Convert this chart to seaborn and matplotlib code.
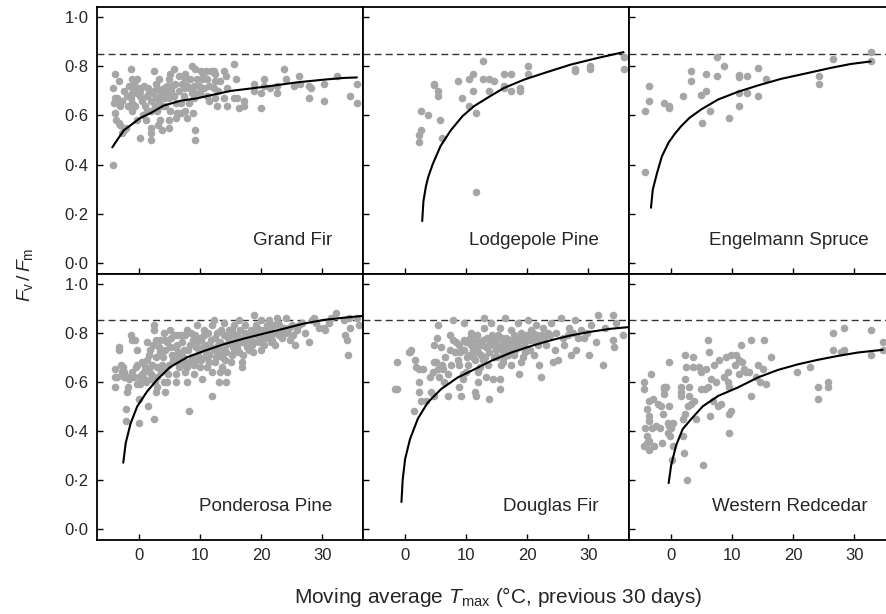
import matplotlib
matplotlib.use("Agg")
import matplotlib.pyplot as plt
import matplotlib.ticker as mticker
import pandas as pd
import seaborn as sns

# Fv/Fm against 30-day moving average Tmax, six conifer species
species = ["Grand Fir", "Lodgepole Pine", "Engelmann Spruce",
           "Ponderosa Pine", "Douglas Fir", "Western Redcedar"]

grand_fir_pts = [
    (-4.3, 0.40), (-4.0, 0.77), (-4.3, 0.71), (-3.3, 0.74), (-3.9, 0.67), (-3.6, 0.67), (-4.2, 0.65),
    (-3.3, 0.65), (-3.1, 0.64), (-3.9, 0.61), (-3.8, 0.58), (-3.3, 0.57), (-3.1, 0.56), (-2.8, 0.53),
    (-2.5, 0.54), (-2.1, 0.55), (-1.4, 0.79), (-1.1, 0.75), (-0.3, 0.75), (-0.9, 0.71), (-1.1, 0.69),
    (-0.6, 0.71), (-0.1, 0.71), (-0.3, 0.69), (0.2, 0.68), (0.2, 0.70), (-1.4, 0.67), (-2.0, 0.68),
    (-1.1, 0.65), (-1.1, 0.62), (-0.6, 0.64), (-0.3, 0.58), (0.1, 0.51), (1.9, 0.66), (2.1, 0.69),
    (1.3, 0.68), (1.6, 0.69), (2.4, 0.70), (2.4, 0.78), (3.2, 0.75), (3.0, 0.71), (3.2, 0.66),
    (3.5, 0.68), (4.0, 0.71), (3.8, 0.64), (3.0, 0.62), (1.9, 0.62), (1.3, 0.62), (1.9, 0.55),
    (1.9, 0.53), (1.9, 0.50), (3.5, 0.58), (3.8, 0.54), (4.9, 0.55), (4.9, 0.58), (4.3, 0.64),
    (4.9, 0.67), (4.6, 0.72), (4.9, 0.75), (5.1, 0.77), (5.7, 0.79), (5.4, 0.72), (5.7, 0.68),
    (6.0, 0.65), (6.2, 0.61), (6.0, 0.59), (6.8, 0.65), (7.3, 0.68), (7.6, 0.71), (7.3, 0.76),
    (7.6, 0.77), (7.9, 0.72), (8.1, 0.65), (7.6, 0.62), (7.9, 0.59), (7.6, 0.75), (8.7, 0.80),
    (9.2, 0.79), (9.5, 0.75), (9.0, 0.72), (8.7, 0.69), (9.2, 0.69), (9.0, 0.67), (9.2, 0.54),
    (9.2, 0.50), (10.1, 0.78), (10.3, 0.75), (10.6, 0.71), (10.9, 0.78), (11.1, 0.75), (11.1, 0.68),
    (11.4, 0.66), (12.2, 0.78), (12.5, 0.77), (12.5, 0.74), (12.2, 0.71), (12.5, 0.67), (12.8, 0.64),
    (13.9, 0.78), (14.2, 0.76), (13.9, 0.67), (14.4, 0.71), (14.4, 0.64), (15.5, 0.81), (15.8, 0.75),
    (15.5, 0.67), (16.1, 0.67), (16.3, 0.63), (17.2, 0.66), (17.2, 0.64), (18.8, 0.73), (18.8, 0.70),
    (19.9, 0.69), (19.9, 0.63), (20.4, 0.75), (20.4, 0.72), (21.5, 0.71), (22.6, 0.72), (22.6, 0.69),
    (23.7, 0.79), (24.0, 0.75), (25.4, 0.72), (26.2, 0.76), (26.4, 0.73), (27.8, 0.72), (27.8, 0.67),
    (28.1, 0.71), (30.3, 0.73), (30.3, 0.66), (32.5, 0.76), (34.6, 0.68), (35.7, 0.73), (35.7, 0.65),
    (-2.5, 0.70), (-1.7, 0.72), (-0.8, 0.73), (0.5, 0.66), (0.8, 0.72), (1.0, 0.64), (1.5, 0.71),
    (2.7, 0.67), (2.8, 0.73), (3.6, 0.70), (4.1, 0.67), (4.5, 0.69), (5.2, 0.70), (5.9, 0.73),
    (6.5, 0.70), (6.5, 0.76), (7.0, 0.73), (8.3, 0.75), (8.4, 0.71), (9.8, 0.72), (10.0, 0.69),
    (10.5, 0.77), (11.5, 0.72), (11.8, 0.78), (13.2, 0.74), (13.0, 0.70), (-2.8, 0.66), (-1.8, 0.64),
    (0.6, 0.60), (2.6, 0.64), (5.0, 0.62), (6.9, 0.61), (8.8, 0.61), (1.2, 0.58), (3.1, 0.56),
]

lodgepole_pts = [
    (12.7, 0.82), (4.8, 0.73), (4.8, 0.725), (5.4, 0.70), (5.4, 0.68), (2.6, 0.62), (3.7, 0.60),
    (2.6, 0.54), (2.2, 0.52), (2.2, 0.49), (5.8, 0.58), (6.0, 0.51), (8.7, 0.74), (10.5, 0.75),
    (11.1, 0.77), (12.7, 0.75), (13.8, 0.75), (14.5, 0.74), (9.4, 0.67), (10.5, 0.64), (11.1, 0.70),
    (11.6, 0.61), (13.8, 0.70), (11.6, 0.29), (16.2, 0.77), (17.3, 0.77), (16.2, 0.72), (16.2, 0.71),
    (17.3, 0.70), (18.8, 0.71), (18.8, 0.70), (20.2, 0.80), (20.2, 0.77), (27.8, 0.79), (27.8, 0.78),
    (30.3, 0.80), (30.3, 0.79), (35.8, 0.84), (35.8, 0.79),
]

engelmann_pts = [
    (-4.2, 0.62), (-3.6, 0.66), (-3.6, 0.72), (-4.2, 0.37), (-1.1, 0.65), (-0.4, 0.64), (-0.4, 0.63),
    (1.9, 0.68), (3.3, 0.78), (3.3, 0.74), (4.9, 0.685), (5.7, 0.70), (5.7, 0.77), (5.0, 0.57),
    (6.4, 0.62), (7.5, 0.84), (7.5, 0.76), (8.7, 0.80), (9.5, 0.59), (11.2, 0.765), (11.2, 0.755),
    (11.2, 0.69), (11.2, 0.64), (12.5, 0.76), (12.5, 0.69), (14.2, 0.795), (14.2, 0.68), (15.6, 0.75),
    (24.2, 0.76), (24.2, 0.73), (26.6, 0.83), (32.7, 0.86), (32.7, 0.82),
]

ponderosa_pts = [
    (-4.0, 0.65), (-4.0, 0.62), (-4.0, 0.58), (-3.3, 0.74), (-3.3, 0.73), (-3.0, 0.67), (-2.8, 0.64),
    (-2.5, 0.62), (-2.4, 0.64), (-2.0, 0.62), (-1.7, 0.61), (-1.4, 0.62), (-1.9, 0.58), (-2.0, 0.56),
    (-2.1, 0.49), (-2.1, 0.44), (-1.4, 0.79), (-1.1, 0.77), (-0.6, 0.77), (-0.3, 0.73), (-0.3, 0.67),
    (-0.1, 0.62), (-0.3, 0.59), (-0.1, 0.53), (-0.1, 0.43), (0.2, 0.59), (0.8, 0.64), (0.8, 0.61),
    (1.3, 0.69), (1.3, 0.76), (1.6, 0.71), (1.6, 0.65), (1.9, 0.61), (1.5, 0.50), (2.1, 0.67),
    (2.4, 0.83), (2.4, 0.81), (2.4, 0.45), (2.7, 0.77), (2.7, 0.70), (3.0, 0.66), (3.0, 0.62),
    (3.0, 0.58), (3.2, 0.74), (3.5, 0.72), (3.8, 0.67), (4.0, 0.80), (4.3, 0.77), (4.3, 0.73),
    (4.3, 0.65), (4.3, 0.56), (4.6, 0.60), (4.9, 0.67), (5.1, 0.81), (5.4, 0.71), (5.7, 0.79),
    (6.0, 0.63), (6.0, 0.60), (6.2, 0.79), (6.2, 0.75), (6.5, 0.70), (6.8, 0.67), (7.0, 0.76),
    (7.3, 0.73), (7.6, 0.64), (7.9, 0.60), (7.6, 0.79), (7.9, 0.81), (8.1, 0.48), (8.4, 0.75),
    (8.7, 0.70), (9.0, 0.67), (9.0, 0.63), (9.2, 0.79), (9.5, 0.83), (9.5, 0.76), (9.8, 0.73),
    (10.1, 0.69), (10.3, 0.61), (10.6, 0.81), (10.6, 0.79), (10.9, 0.75), (11.1, 0.66), (11.4, 0.71),
    (11.7, 0.77), (12.0, 0.83), (12.0, 0.54), (12.2, 0.73), (12.2, 0.85), (12.5, 0.68), (12.8, 0.80),
    (13.1, 0.60), (13.3, 0.64), (13.3, 0.76), (13.6, 0.70), (13.9, 0.84), (13.9, 0.79), (14.2, 0.60),
    (14.2, 0.75), (14.4, 0.64), (14.7, 0.81), (15.0, 0.76), (15.2, 0.71), (15.5, 0.83), (15.8, 0.79),
    (16.1, 0.74), (16.3, 0.85), (16.6, 0.81), (16.9, 0.68), (16.9, 0.66), (17.2, 0.77), (17.4, 0.83),
    (17.7, 0.79), (18.0, 0.73), (18.3, 0.81), (18.5, 0.75), (18.8, 0.87), (19.1, 0.83), (19.3, 0.79),
    (19.6, 0.76), (19.9, 0.85), (20.2, 0.81), (20.4, 0.75), (20.7, 0.78), (21.0, 0.83), (21.3, 0.85),
    (21.5, 0.81), (21.8, 0.77), (22.1, 0.83), (22.3, 0.75), (22.6, 0.86), (22.9, 0.79), (23.7, 0.82),
    (24.0, 0.86), (24.3, 0.80), (24.8, 0.77), (25.1, 0.83), (25.6, 0.75), (25.9, 0.81), (26.7, 0.84),
    (27.8, 0.76), (28.4, 0.85), (28.6, 0.86), (30.3, 0.82), (30.5, 0.81), (31.1, 0.84), (32.3, 0.88),
    (33.6, 0.85), (33.8, 0.79), (34.1, 0.77), (34.2, 0.71), (34.4, 0.86), (34.6, 0.82), (35.7, 0.86),
    (36.0, 0.83), (5.0, 0.74), (5.6, 0.69), (6.4, 0.72), (7.2, 0.70), (8.0, 0.73), (8.8, 0.77),
    (9.6, 0.71), (10.2, 0.77), (11.0, 0.72), (11.8, 0.74), (12.4, 0.78), (13.0, 0.72), (13.8, 0.73),
    (14.6, 0.78), (15.4, 0.74), (16.0, 0.79), (16.8, 0.76), (17.6, 0.74), (18.2, 0.78), (19.0, 0.80),
    (19.8, 0.78), (20.6, 0.80), (21.2, 0.79), (22.0, 0.80), (23.0, 0.83), (23.4, 0.78), (2.0, 0.63),
    (3.6, 0.64), (1.0, 0.66), (4.8, 0.63), (6.6, 0.66), (8.2, 0.68), (10.8, 0.70), (12.6, 0.70),
    (14.0, 0.69), (15.6, 0.72), (17.0, 0.71), (18.6, 0.72), (20.0, 0.73), (-0.8, 0.62), (0.4, 0.63),
    (2.6, 0.60), (-3.6, 0.62), (-2.6, 0.66), (-1.2, 0.64), (0.5, 0.68), (1.8, 0.73), (2.2, 0.75),
    (3.4, 0.77), (3.9, 0.70), (4.6, 0.76), (5.2, 0.78), (5.8, 0.74), (6.9, 0.79), (7.4, 0.68),
    (8.5, 0.80), (9.3, 0.74), (9.9, 0.78), (10.4, 0.74), (11.3, 0.80), (11.5, 0.68), (12.9, 0.75),
    (13.5, 0.81), (14.3, 0.72), (14.9, 0.79), (15.3, 0.81), (15.9, 0.77), (16.5, 0.78), (16.4, 0.72),
    (17.3, 0.80), (17.9, 0.76), (18.4, 0.79), (18.9, 0.76), (19.4, 0.82), (20.3, 0.78), (20.9, 0.82),
    (21.6, 0.76), (22.4, 0.80), (22.8, 0.84), (23.2, 0.80), (24.5, 0.82), (25.3, 0.79), (26.2, 0.83),
    (27.2, 0.80), (29.0, 0.84), (29.5, 0.82), (31.5, 0.86), (10.0, 0.66), (11.9, 0.64), (13.6, 0.66),
    (7.8, 0.66), (6.2, 0.68), (4.0, 0.60), (2.8, 0.56), (1.1, 0.60), (-0.5, 0.66), (15.0, 0.68),
    (9.4, 0.69),
]

douglas_pts = [
    (-1.4, 0.68), (-1.6, 0.57), (-1.4, 0.57), (0.8, 0.72), (1.0, 0.73), (0.6, 0.72), (1.7, 0.69),
    (1.8, 0.66), (2.3, 0.65), (2.9, 0.65), (1.5, 0.48), (2.3, 0.60), (2.3, 0.56), (2.6, 0.52),
    (3.4, 0.52), (4.3, 0.56), (4.8, 0.54), (4.0, 0.62), (4.5, 0.64), (4.8, 0.68), (5.1, 0.68),
    (5.4, 0.65), (5.6, 0.62), (6.2, 0.65), (4.8, 0.75), (5.2, 0.78), (5.4, 0.83), (5.9, 0.74),
    (6.4, 0.60), (7.0, 0.54), (7.3, 0.79), (7.3, 0.73), (7.8, 0.85), (7.8, 0.77), (8.4, 0.76),
    (8.6, 0.69), (8.9, 0.67), (8.9, 0.58), (9.2, 0.54), (9.5, 0.61), (9.5, 0.63), (9.7, 0.84),
    (9.7, 0.77), (9.7, 0.73), (10.3, 0.67), (10.5, 0.71), (10.8, 0.80), (10.8, 0.75), (11.1, 0.73),
    (11.4, 0.69), (11.4, 0.56), (11.6, 0.54), (11.9, 0.60), (11.9, 0.76), (12.2, 0.66), (12.5, 0.71),
    (12.7, 0.77), (13.0, 0.82), (13.0, 0.86), (13.3, 0.74), (13.3, 0.62), (13.6, 0.67), (13.8, 0.72),
    (13.8, 0.53), (14.1, 0.76), (14.1, 0.84), (14.4, 0.61), (14.6, 0.70), (14.9, 0.73), (15.2, 0.79),
    (15.5, 0.82), (15.5, 0.57), (15.5, 0.61), (15.7, 0.67), (16.0, 0.72), (16.3, 0.86), (16.3, 0.76),
    (16.6, 0.78), (16.8, 0.71), (17.1, 0.73), (17.4, 0.67), (17.4, 0.81), (17.7, 0.76), (17.9, 0.71),
    (18.2, 0.78), (18.5, 0.84), (18.7, 0.63), (18.7, 0.74), (19.0, 0.80), (19.3, 0.70), (19.6, 0.76),
    (19.8, 0.79), (20.1, 0.85), (20.4, 0.73), (20.7, 0.81), (20.9, 0.77), (21.2, 0.71), (21.5, 0.83),
    (21.7, 0.79), (22.0, 0.67), (22.3, 0.62), (22.6, 0.82), (22.8, 0.78), (23.1, 0.75), (23.7, 0.79),
    (23.9, 0.84), (24.2, 0.68), (24.5, 0.73), (25.0, 0.69), (25.6, 0.86), (26.1, 0.75), (26.7, 0.79),
    (26.9, 0.82), (27.2, 0.71), (27.8, 0.85), (28.0, 0.73), (28.3, 0.78), (28.9, 0.81), (29.4, 0.78),
    (30.2, 0.71), (30.5, 0.83), (31.3, 0.76), (31.6, 0.87), (32.4, 0.67), (32.7, 0.82), (34.0, 0.87),
    (34.0, 0.77), (34.2, 0.74), (34.6, 0.84), (35.7, 0.79), (11.0, 0.77), (12.0, 0.72), (13.5, 0.78),
    (14.5, 0.75), (15.0, 0.70), (15.8, 0.75), (16.5, 0.73), (17.2, 0.75), (18.0, 0.73), (18.8, 0.77),
    (19.5, 0.74), (12.8, 0.69), (11.5, 0.74), (10.2, 0.70), (9.0, 0.72), (14.8, 0.77), (16.2, 0.70),
    (17.8, 0.79), (20.5, 0.77), (21.8, 0.75), (6.6, 0.70), (7.6, 0.67), (8.1, 0.72), (8.8, 0.75),
    (9.9, 0.76), (10.6, 0.78), (11.2, 0.70), (11.8, 0.79), (12.4, 0.75), (13.1, 0.70), (13.7, 0.75),
    (14.3, 0.79), (14.9, 0.76), (15.3, 0.74), (15.9, 0.78), (16.7, 0.75), (17.1, 0.77), (17.6, 0.72),
    (18.3, 0.75), (19.1, 0.78), (19.7, 0.72), (20.3, 0.79), (21.0, 0.80), (21.9, 0.77), (22.5, 0.79),
    (23.4, 0.80), (24.8, 0.80), (25.8, 0.78), (27.5, 0.80), (29.8, 0.80), (7.0, 0.63), (6.0, 0.67),
    (10.0, 0.64), (12.0, 0.64), (16.0, 0.68), (19.0, 0.68),
]

redcedar_pts = [
    (-4.4, 0.60), (-4.4, 0.57), (-3.3, 0.63), (-3.7, 0.52), (-3.0, 0.53), (-3.9, 0.49), (-3.6, 0.46),
    (-3.7, 0.44), (-4.3, 0.41), (-3.9, 0.38), (-3.7, 0.36), (-4.4, 0.34), (-3.9, 0.35), (-3.6, 0.32),
    (-2.8, 0.34), (-3.2, 0.41), (-2.5, 0.42), (-2.2, 0.51), (-1.7, 0.50), (-1.9, 0.41), (-1.4, 0.47),
    (-1.5, 0.35), (-1.1, 0.57), (-1.1, 0.58), (-0.8, 0.58), (-1.1, 0.55), (-0.4, 0.68), (-0.4, 0.50),
    (-0.5, 0.43), (-0.5, 0.39), (-0.3, 0.42), (0.0, 0.41), (-0.1, 0.38), (0.3, 0.34), (0.3, 0.43),
    (0.1, 0.28), (1.6, 0.58), (1.6, 0.56), (1.7, 0.54), (1.9, 0.45), (1.9, 0.38), (2.1, 0.31),
    (2.2, 0.61), (2.2, 0.71), (2.2, 0.47), (2.5, 0.66), (2.7, 0.50), (3.0, 0.58), (3.0, 0.54),
    (3.3, 0.51), (3.6, 0.70), (3.6, 0.66), (3.8, 0.52), (4.1, 0.45), (4.6, 0.66), (4.9, 0.64),
    (4.9, 0.57), (5.2, 0.26), (5.5, 0.57), (5.7, 0.65), (6.0, 0.58), (6.1, 0.77), (6.2, 0.72),
    (6.4, 0.46), (6.6, 0.61), (6.8, 0.52), (7.1, 0.67), (7.4, 0.60), (7.7, 0.50), (7.9, 0.69),
    (8.2, 0.51), (8.7, 0.62), (9.0, 0.70), (9.3, 0.64), (9.3, 0.60), (9.5, 0.58), (9.5, 0.47),
    (9.5, 0.39), (9.8, 0.48), (9.8, 0.71), (10.4, 0.67), (10.7, 0.71), (11.2, 0.69), (11.2, 0.63),
    (11.5, 0.75), (11.7, 0.68), (12.0, 0.65), (12.3, 0.64), (12.8, 0.64), (13.1, 0.54), (13.1, 0.77),
    (13.9, 0.62), (14.2, 0.67), (14.5, 0.60), (15.0, 0.65), (15.2, 0.77), (15.6, 0.59), (16.4, 0.70),
    (2.6, 0.20), (20.7, 0.64), (22.7, 0.66), (24.1, 0.58), (24.1, 0.53), (25.7, 0.60), (25.7, 0.58),
    (26.6, 0.80), (26.6, 0.73), (27.9, 0.72), (28.3, 0.82), (28.3, 0.73), (32.7, 0.81), (32.7, 0.71),
    (34.7, 0.76), (34.7, 0.73),
]

# fitted curves
grand_fir_fit = [(-4.4, 0.47), (-3.6, 0.50), (-2.5, 0.54), (-1.4, 0.56), (0.2, 0.59), (1.9, 0.61),
                 (4.0, 0.64), (6.8, 0.66), (9.5, 0.67), (12.2, 0.685), (15.0, 0.70), (18.3, 0.71),
                 (21.5, 0.72), (25.9, 0.735), (30.3, 0.746), (33.6, 0.753), (35.7, 0.755)]
lodgepole_fit = [(2.8, 0.17), (3.0, 0.25), (3.4, 0.31), (3.8, 0.35), (4.5, 0.40), (5.8, 0.475),
                 (7.5, 0.54), (9.4, 0.597), (11.3, 0.638), (13.5, 0.672), (16.2, 0.712), (19.5, 0.746),
                 (22.8, 0.773), (27.1, 0.807), (31.5, 0.834), (35.8, 0.858)]
engelmann_fit = [(-3.3, 0.224), (-3.0, 0.298), (-2.3, 0.366), (-1.5, 0.434), (-0.4, 0.49),
                 (0.6, 0.525), (1.6, 0.555), (3.0, 0.59), (4.9, 0.624), (7.7, 0.665), (10.9, 0.696),
                 (14.2, 0.722), (18.0, 0.749), (22.4, 0.773), (26.2, 0.794), (29.5, 0.81), (32.7, 0.82)]
ponderosa_fit = [(-2.6, 0.27), (-2.2, 0.35), (-1.4, 0.43), (-0.3, 0.50), (1.3, 0.56), (3.0, 0.61),
                 (5.1, 0.66), (7.9, 0.70), (10.6, 0.725), (13.9, 0.753), (17.2, 0.776), (20.4, 0.796),
                 (23.7, 0.816), (27.0, 0.837), (30.3, 0.852), (33.6, 0.861), (36.6, 0.868)]
douglas_fit = [(-0.6, 0.11), (-0.4, 0.20), (0.0, 0.285), (0.8, 0.366), (2.1, 0.45), (3.7, 0.515),
               (5.9, 0.57), (8.6, 0.617), (11.4, 0.651), (14.1, 0.685), (17.4, 0.719), (20.7, 0.746),
               (23.9, 0.769), (27.2, 0.789), (30.5, 0.804), (33.8, 0.816), (36.8, 0.823)]
redcedar_fit = [(-0.4, 0.187), (0.0, 0.258), (0.8, 0.339), (1.9, 0.407), (3.3, 0.448), (5.2, 0.50),
                (7.7, 0.542), (10.9, 0.576), (14.2, 0.617), (17.5, 0.648), (20.8, 0.671), (24.0, 0.689),
                (27.3, 0.705), (30.6, 0.719), (34.7, 0.73)]

points = dict(zip(species, [grand_fir_pts, lodgepole_pts, engelmann_pts,
                            ponderosa_pts, douglas_pts, redcedar_pts]))
fits = dict(zip(species, [grand_fir_fit, lodgepole_fit, engelmann_fit,
                          ponderosa_fit, douglas_fit, redcedar_fit]))
label_x = [0.885, 0.887, 0.90, 0.885, 0.887, 0.898]
ref_level = 0.85
x_ticks = [0, 10, 20, 30]
y_ticks = [0.0, 0.2, 0.4, 0.6, 0.8, 1.0]

sns.set_style("ticks")
plt.rcParams["font.family"] = ["Liberation Sans", "DejaVu Sans"]
plt.rcParams["mathtext.fontset"] = "custom"
plt.rcParams["mathtext.rm"] = "Liberation Sans"
plt.rcParams["mathtext.it"] = "Liberation Sans:italic"

fig, axes = plt.subplots(2, 3, figsize=(8.87, 6.14), dpi=100, sharex=True, sharey=True)
fig.subplots_adjust(left=0.1094, right=1.009, bottom=0.1205, top=0.9878, wspace=0, hspace=0)

dot_color = "#a6a6a6"
for ax, name, lx in zip(axes.flat, species, label_x):
    pts = pd.DataFrame(points[name], columns=["tmax", "fvfm"])
    fit = pd.DataFrame(fits[name], columns=["tmax", "fvfm"])
    sns.scatterplot(data=pts, x="tmax", y="fvfm", ax=ax, color=dot_color, s=30,
                    linewidth=0, zorder=2)
    sns.lineplot(data=fit, x="tmax", y="fvfm", ax=ax, color="black", lw=1.5,
                 estimator=None, sort=False, zorder=3)
    ax.axhline(ref_level, color="#333333", lw=1, dashes=(5, 3), zorder=1)
    ax.text(lx, 0.125, name, transform=ax.transAxes, ha="right", va="center", fontsize=13.5)
    ax.set_xlabel("")
    ax.set_ylabel("")
    for sp in ax.spines.values():
        sp.set_linewidth(1.3)
        sp.set_color("black")
    ax.tick_params(direction="in", length=4.5, width=1, labelsize=12, pad=6, color="black")

ax0 = axes[0, 0]
ax0.set_xlim(-6.9, 36.7)
ax0.set_ylim(-0.045, 1.04)
ax0.set_xticks(x_ticks)
ax0.set_yticks(y_ticks)
ax0.yaxis.set_major_formatter(mticker.FuncFormatter(lambda v, p: f"{v:.1f}".replace(".", "\u00b7")))

fig.text(0.028, 0.553, r"$F_{\mathrm{v}}\,/\,F_{\mathrm{m}}$", rotation=90, ha="center", va="center",
         fontsize=14)
fig.text(0.562, 0.028, r"Moving average $T_{\mathrm{max}}$ (°C, previous 30 days)", ha="center",
         va="center", fontsize=15)

fig.savefig("out.png", dpi=100)
